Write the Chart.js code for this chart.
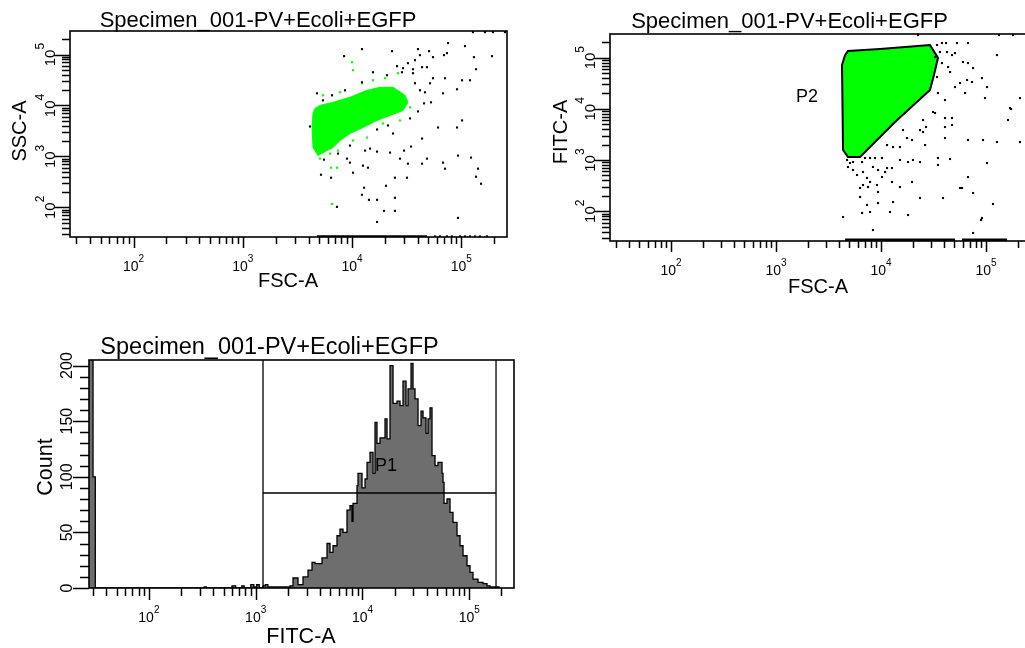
<!DOCTYPE html>
<html>
<head>
<meta charset="utf-8">
<title>Specimen_001-PV+Ecoli+EGFP</title>
<script src="https://cdn.jsdelivr.net/npm/chart.js@4.4.1/dist/chart.umd.min.js"></script>
<style>
  html, body { margin: 0; padding: 0; background: #fff; width: 1025px; height: 648px; overflow: hidden; }
  canvas { position: absolute; }
  #dotFsc { left: 0; top: 0; }
  #dotFitc { left: 540px; top: 0; }
  #histFitc { left: 0; top: 320px; }
</style>
</head>
<body>
<canvas id="dotFsc" width="520" height="300"></canvas>
<canvas id="dotFitc" width="500" height="300"></canvas>
<canvas id="histFitc" width="540" height="328"></canvas>
<script>
// ---- data ---------------------------------------------------------------
// dot plot positions are stored as log10 decades: [FSC-A, SSC-A] / [FSC-A, FITC-A]

// FSC-A vs SSC-A : dense green population outline
const sscGreenOutline = [[3.661,3.943],[3.707,4.002],[3.826,4.062],[3.981,4.160],[4.137,4.298],[4.256,4.357],[4.375,4.357],[4.485,4.200],[4.512,4.062],[4.467,3.904],[4.348,3.805],[4.229,3.707],[4.100,3.568],[3.981,3.450],[3.890,3.312],[3.826,3.174],[3.771,3.115],[3.689,3.016],[3.643,3.174],[3.634,3.568],[3.643,3.845],[3.661,3.943]];
// stray green events around it
const sscGreenDots = [[4.000,4.850],[4.009,4.693],[4.421,4.634],[4.302,4.535],[4.192,4.495],[4.091,4.436],[4.531,3.963],[4.439,3.707],[4.284,3.647],[4.137,3.371],[4.009,3.312],[3.862,2.779],[3.808,2.779],[3.817,2.069],[3.707,2.957],[3.798,3.056],[3.872,3.115],[3.734,4.200],[3.890,4.259],[4.421,4.200],[3.734,1.43],[3.844,1.43],[3.917,1.43]];
// ungated (black) events
const sscBlackDots = [[4.091,5.107],[3.927,4.969],[4.366,5.067],[4.604,5.107],[4.705,5.067],[4.879,5.225],[5.034,5.166],[5.116,4.949],[5.281,4.969],[4.842,4.989],[4.869,5.028],[4.622,4.989],[4.576,4.890],[4.512,4.831],[4.412,4.772],[4.467,4.732],[4.558,4.712],[4.641,4.752],[4.741,4.949],[4.686,4.752],[5.135,4.712],[4.851,4.535],[5.007,4.495],[5.080,4.495],[4.961,4.318],[4.833,4.239],[4.741,4.535],[4.714,4.436],[4.576,4.436],[4.622,4.298],[4.668,4.259],[4.659,4.042],[4.723,4.062],[4.604,3.884],[4.531,3.746],[5.007,3.707],[4.961,3.568],[4.787,3.568],[4.641,3.351],[4.375,3.450],[4.329,3.608],[4.229,3.529],[4.165,3.154],[4.119,3.115],[4.229,3.095],[4.348,3.075],[4.439,2.957],[4.512,2.858],[4.476,3.115],[4.540,3.194],[4.686,2.957],[4.641,2.858],[4.833,2.878],[4.970,3.016],[5.089,2.977],[4.851,2.760],[5.153,2.760],[5.135,2.602],[5.181,2.464],[4.100,2.819],[4.146,2.779],[4.009,2.681],[3.981,2.878],[3.954,2.957],[3.716,2.641],[3.808,2.582],[4.110,2.385],[4.091,2.247],[4.311,2.424],[4.393,2.582],[4.503,2.582],[4.155,2.148],[4.229,2.148],[4.393,2.188],[4.293,1.931],[4.393,1.931],[4.229,1.714],[4.970,1.793],[3.862,2.010],[3.615,3.588],[3.679,4.239],[3.734,4.101],[3.817,4.200],[3.936,4.298],[4.091,4.456],[4.192,4.653],[4.320,4.594],[4.457,4.653],[4.558,4.634],[3.981,3.213],[3.872,3.056],[3.743,2.937],[5.107,5.44],[5.217,5.44],[5.290,5.44],[5.400,5.44],[4.760,1.43],[4.805,1.43],[4.869,1.43],[4.915,1.43],[4.988,1.43],[5.034,1.43],[5.080,1.43],[5.126,1.43],[5.171,1.43],[5.235,1.43]];
// events piled on the SSC-A minimum
const sscFloorRun = [[3.679,1.43],[4.686,1.43]];

// FSC-A vs FITC-A : gate P2 (its events are filled green)
const gateP2 = [[3.657,5.051],[3.685,5.129],[3.990,5.169],[4.466,5.247],[4.542,4.993],[4.504,4.661],[4.466,4.368],[4.133,3.743],[3.800,3.059],[3.685,3.059],[3.638,3.196],[3.628,4.856],[3.657,5.051]];
const fitcBlackDots = [[4.352,5.442],[5.123,5.442],[5.257,5.442],[4.533,5.247],[4.580,5.286],[4.619,5.286],[4.723,5.286],[4.828,5.286],[4.561,5.110],[4.628,5.110],[4.676,5.051],[4.704,5.090],[4.580,4.895],[4.638,4.817],[4.780,4.915],[4.828,4.895],[4.876,4.797],[5.104,5.051],[4.819,4.563],[4.866,4.524],[4.961,4.602],[5.009,4.426],[4.704,4.426],[4.800,4.309],[4.542,4.309],[4.609,4.172],[4.990,4.211],[5.323,4.211],[5.238,3.997],[5.209,3.782],[4.495,3.938],[4.514,3.918],[4.400,3.782],[4.428,3.645],[4.400,3.547],[4.371,3.586],[4.609,3.821],[4.676,3.821],[4.609,3.645],[4.676,3.684],[4.209,3.586],[4.247,3.430],[4.295,3.391],[4.180,3.254],[4.114,3.254],[4.057,3.293],[4.009,3.040],[3.942,3.040],[3.895,3.040],[3.847,3.040],[4.609,3.430],[4.828,3.391],[4.971,3.391],[5.104,3.352],[5.323,3.352],[4.419,3.293],[4.542,3.040],[4.180,3.001],[4.257,2.961],[4.304,3.001],[4.371,2.961],[4.542,2.903],[4.657,3.020],[5.009,2.942],[3.676,3.001],[3.704,2.942],[3.733,2.961],[3.685,2.864],[3.733,2.805],[3.819,2.961],[3.771,2.708],[3.828,2.766],[3.923,2.864],[3.971,2.805],[4.057,2.844],[4.104,2.844],[4.038,2.766],[3.866,2.649],[3.895,2.571],[3.828,2.512],[3.876,2.473],[3.800,2.454],[4.009,2.668],[3.961,2.512],[4.104,2.571],[4.180,2.473],[4.295,2.571],[4.828,2.668],[4.752,2.454],[4.876,2.356],[4.371,2.258],[4.590,2.258],[3.866,2.122],[3.971,2.161],[4.114,2.180],[3.895,1.985],[4.085,1.985],[4.257,1.926],[5.066,2.141],[4.961,1.868],[3.638,1.887],[3.923,1.633],[4.876,1.575],[3.819,1.965],[3.800,2.278],[3.971,2.376],[4.771,2.454],[4.952,1.829],[5.228,4.016],[4.514,5.012],[4.657,4.719],[4.533,4.622],[4.752,4.504]];
const fitcFloorRunA = [[3.657,1.445],[4.704,1.445]];
const fitcFloorRunB = [[4.771,1.445],[5.200,1.445]];

// FITC-A histogram: each count holds from its channel up to the next one
// (first bin collects the off-scale low events)
const fitcChannel = [26,30,31.5,330,345,600,650,740,780,900,960,1020,1080,1170,1230,1300,1450,1690,1880,2096,2236,2490,2773,3090,3368,3593,4001,4179,4654,4965,5295,5772,6158,6569,7161,7640,7977,8152,8886,9078,9897,10560,11030,11760,12550,13100,13670,14590,16250,16970,18100,19310,21050,22460,23960,25560,26690,28470,29720,31030,33110,35320,36880,39330,41070,42870,44760,47750,50940,55530,56740,57980,61850,65980,70390,76740,81870,87350,95200,101550,108340,120660,134410,146560,156320,177920,190000];
const fitcCount = [250,100,0,1,0,2,0,2,0,3,1,3,0,2,3,1,1,1,1,2,9,3,10,16,23,22,22,27,40,32,38,47,53,50,70,74,60,76,92,103,90,98,113,122,103,149,130,135,152,134,200,166,168,164,186,164,179,202,179,170,146,159,153,139,152,162,119,110,113,103,95,76,80,68,59,47,38,29,20,14,8,5,4,2,1,1,0];
// interval gate P1: [low, high] on FITC-A, drawn at this count level
const gateP1Range = [1171, 177920];
const gateP1Level = 85.4;

const decades = [2, 3, 4, 5];
const TITLE = 'Specimen_001-PV+Ecoli+EGFP';

// ---- drawing helpers --------------------------------------------------
const FAMILY = '"Liberation Sans", Arial, sans-serif';
const fnt = size => size + 'px ' + FAMILY;
const fromLog = p => ({ x: Math.pow(10, p[0]), y: Math.pow(10, p[1]) });

function logTicks(min, max) {
  const out = [];
  for (let e = Math.floor(Math.log10(min)); e <= Math.ceil(Math.log10(max)); e++) {
    for (let k = 1; k <= 9; k++) {
      const v = k * Math.pow(10, e);
      if (v >= min * 0.999 && v <= max * 1.001) out.push({ v, major: k === 1 });
    }
  }
  return out;
}

function countTicks(min, max) {
  const out = [];
  for (let v = 0; v <= max; v += 10) out.push({ v, major: v % 50 === 0 });
  return out;
}

// frame, outside tick marks, "10^n" labels and titles in the FACSDiva look
const facsFrame = {
  id: 'facsFrame',
  afterDraw(chart, _args, o) {
    const { ctx, chartArea: a } = chart;
    const xs = chart.scales.x, ys = chart.scales.y;
    ctx.save();
    ctx.strokeStyle = '#000';
    ctx.fillStyle = '#000';

    ctx.lineWidth = 1.6;
    ctx.strokeRect(a.left, a.top, a.right - a.left, a.bottom - a.top);

    ctx.lineWidth = 1.5;
    ctx.beginPath();
    logTicks(xs.min, xs.max).forEach(t => {
      const px = Math.round(xs.getPixelForValue(t.v)) + 0.5;
      ctx.moveTo(px, a.bottom);
      ctx.lineTo(px, a.bottom + (t.major ? o.xMajor : o.xMinor));
    });
    const yTicks = o.countAxis ? countTicks(ys.min, ys.max) : logTicks(ys.min, ys.max);
    yTicks.forEach(t => {
      const py = Math.round(ys.getPixelForValue(t.v)) + 0.5;
      ctx.moveTo(a.left, py);
      ctx.lineTo(a.left - (t.major ? o.yMajor : o.yMinor), py);
    });
    ctx.stroke();

    ctx.textBaseline = 'alphabetic';
    ctx.textAlign = 'left';
    decades.forEach(e => {
      const px = xs.getPixelForValue(Math.pow(10, e));
      ctx.font = fnt(14); const w1 = ctx.measureText('10').width;
      ctx.font = fnt(10); const w2 = ctx.measureText(String(e)).width;
      const x0 = px - (w1 + w2) / 2;
      ctx.font = fnt(14); ctx.fillText('10', x0, a.bottom + 34);
      ctx.font = fnt(10); ctx.fillText(String(e), x0 + w1, a.bottom + 25);
    });

    if (o.countAxis) {
      yTicks.filter(t => t.major).forEach(t => {
        ctx.save();
        ctx.translate(a.left - 17, ys.getPixelForValue(t.v));
        ctx.rotate(-Math.PI / 2);
        ctx.textAlign = 'center';
        ctx.font = fnt(16);
        ctx.fillText(String(t.v), 0, 0);
        ctx.restore();
      });
    } else {
      decades.forEach(e => {
        ctx.save();
        ctx.translate(a.left - 15, ys.getPixelForValue(Math.pow(10, e)));
        ctx.rotate(-Math.PI / 2);
        ctx.font = fnt(15); const w1 = ctx.measureText('10').width;
        ctx.font = fnt(12); const w2 = ctx.measureText(String(e)).width;
        const x0 = -(w1 + w2) / 2;
        ctx.font = fnt(15); ctx.fillText('10', x0, 0);
        ctx.font = fnt(12); ctx.fillText(String(e), x0 + w1, -11);
        ctx.restore();
      });
    }

    ctx.textAlign = 'center';
    ctx.font = fnt(o.titleSize);
    ctx.fillText(TITLE, o.titleAt[0], o.titleAt[1]);
    ctx.font = fnt(o.axisSize);
    ctx.fillText(o.xTitle, o.xTitleAt[0], o.xTitleAt[1]);
    ctx.save();
    ctx.translate(o.yTitleAt[0], o.yTitleAt[1]);
    ctx.rotate(-Math.PI / 2);
    ctx.fillText(o.yTitle, 0, 0);
    ctx.restore();

    if (o.gateName) {
      ctx.font = fnt(18);
      ctx.textBaseline = 'middle';
      ctx.fillText(o.gateName, xs.getPixelForValue(o.gateLabel[0]), ys.getPixelForValue(o.gateLabel[1]));
    }
    ctx.restore();
  }
};

function plot(id, padding, scales, datasets, frame) {
  return new Chart(document.getElementById(id), {
    type: 'scatter',
    data: { datasets },
    options: {
      responsive: false,
      animation: false,
      events: [],
      layout: { padding },
      plugins: { legend: { display: false }, tooltip: { enabled: false }, facsFrame: frame },
      scales
    },
    plugins: [facsFrame]
  });
}

const dots = (pts, color, order) => ({
  data: pts.map(fromLog), pointStyle: 'rect', pointRadius: 1.5,
  pointBackgroundColor: color, pointBorderWidth: 0, order
});
const run = (pts, color, width) => ({
  data: pts.map(fromLog), showLine: true, borderColor: color, borderWidth: width, pointRadius: 0, order: 1
});
const logAxis = (min, max) => ({ type: 'logarithmic', display: false, bounds: 'data', min, max });

// ---- FSC-A vs SSC-A -----------------------------------------------------
plot('dotFsc', { left: 70, top: 31, right: 13, bottom: 63 },
  { x: logAxis(26.2, 262144), y: logAxis(26.2, 290000) },
  [
    dots(sscBlackDots, '#000', 1),
    dots(sscGreenDots, '#00ff00', 2),
    { data: sscGreenOutline.map(fromLog), showLine: true, fill: 'shape', backgroundColor: '#00ff00',
      borderColor: '#00ff00', borderWidth: 1, pointRadius: 0, order: 3 },
    run(sscFloorRun, '#000', 2.5)
  ],
  { titleSize: 22, titleAt: [258, 27], axisSize: 20, xTitle: 'FSC-A', xTitleAt: [288, 287],
    yTitle: 'SSC-A', yTitleAt: [26, 131], xMajor: 11, xMinor: 7, yMajor: 16, yMinor: 8 });

// ---- FSC-A vs FITC-A with gate P2 -------------------------------------
plot('dotFitc', { left: 70, top: 34, right: 10, bottom: 59 },
  { x: logAxis(26.2, 262144), y: logAxis(26.2, 290000) },
  [
    dots(fitcBlackDots, '#000', 1),
    { data: gateP2.map(fromLog), showLine: true, fill: 'shape', backgroundColor: '#00ff00',
      borderColor: '#000', borderWidth: 2, pointRadius: 0, order: 2 },
    run(fitcFloorRunA, '#000', 2.5),
    run(fitcFloorRunB, '#000', 2.5)
  ],
  { titleSize: 22, titleAt: [249.5, 28], axisSize: 20, xTitle: 'FSC-A', xTitleAt: [278, 293],
    yTitle: 'FITC-A', yTitleAt: [27, 132], xMajor: 11, xMinor: 7, yMajor: 16, yMinor: 8,
    gateName: 'P2', gateLabel: [1972, 17020] });

// ---- FITC-A histogram with interval gate P1 ---------------------------
plot('histFitc', { left: 89, top: 40, right: 26, bottom: 60 },
  { x: logAxis(27.5, 262144), y: { type: 'linear', display: false, bounds: 'data', min: 0, max: 205 } },
  [
    { data: [
        { x: gateP1Range[0], y: 0 }, { x: gateP1Range[0], y: 205 }, { x: gateP1Range[0], y: gateP1Level },
        { x: gateP1Range[1], y: gateP1Level }, { x: gateP1Range[1], y: 205 }, { x: gateP1Range[1], y: 0 }
      ], showLine: true, borderColor: '#000', borderWidth: 1.3, pointRadius: 0, order: 1 },
    { data: fitcChannel.map((v, i) => ({ x: v, y: fitcCount[i] })), showLine: true, stepped: 'before',
      fill: 'origin', backgroundColor: '#6e6e6e', borderColor: '#000', borderWidth: 1.3,
      pointRadius: 0, order: 2 }
  ],
  { titleSize: 23.5, titleAt: [269.5, 34], axisSize: 21.5, xTitle: 'FITC-A', xTitleAt: [301, 323],
    yTitle: 'Count', yTitleAt: [52, 147], xMajor: 12, xMinor: 8, yMajor: 16, yMinor: 9,
    countAxis: true, gateName: 'P1', gateLabel: [16600, 110] });
</script>
</body>
</html>
